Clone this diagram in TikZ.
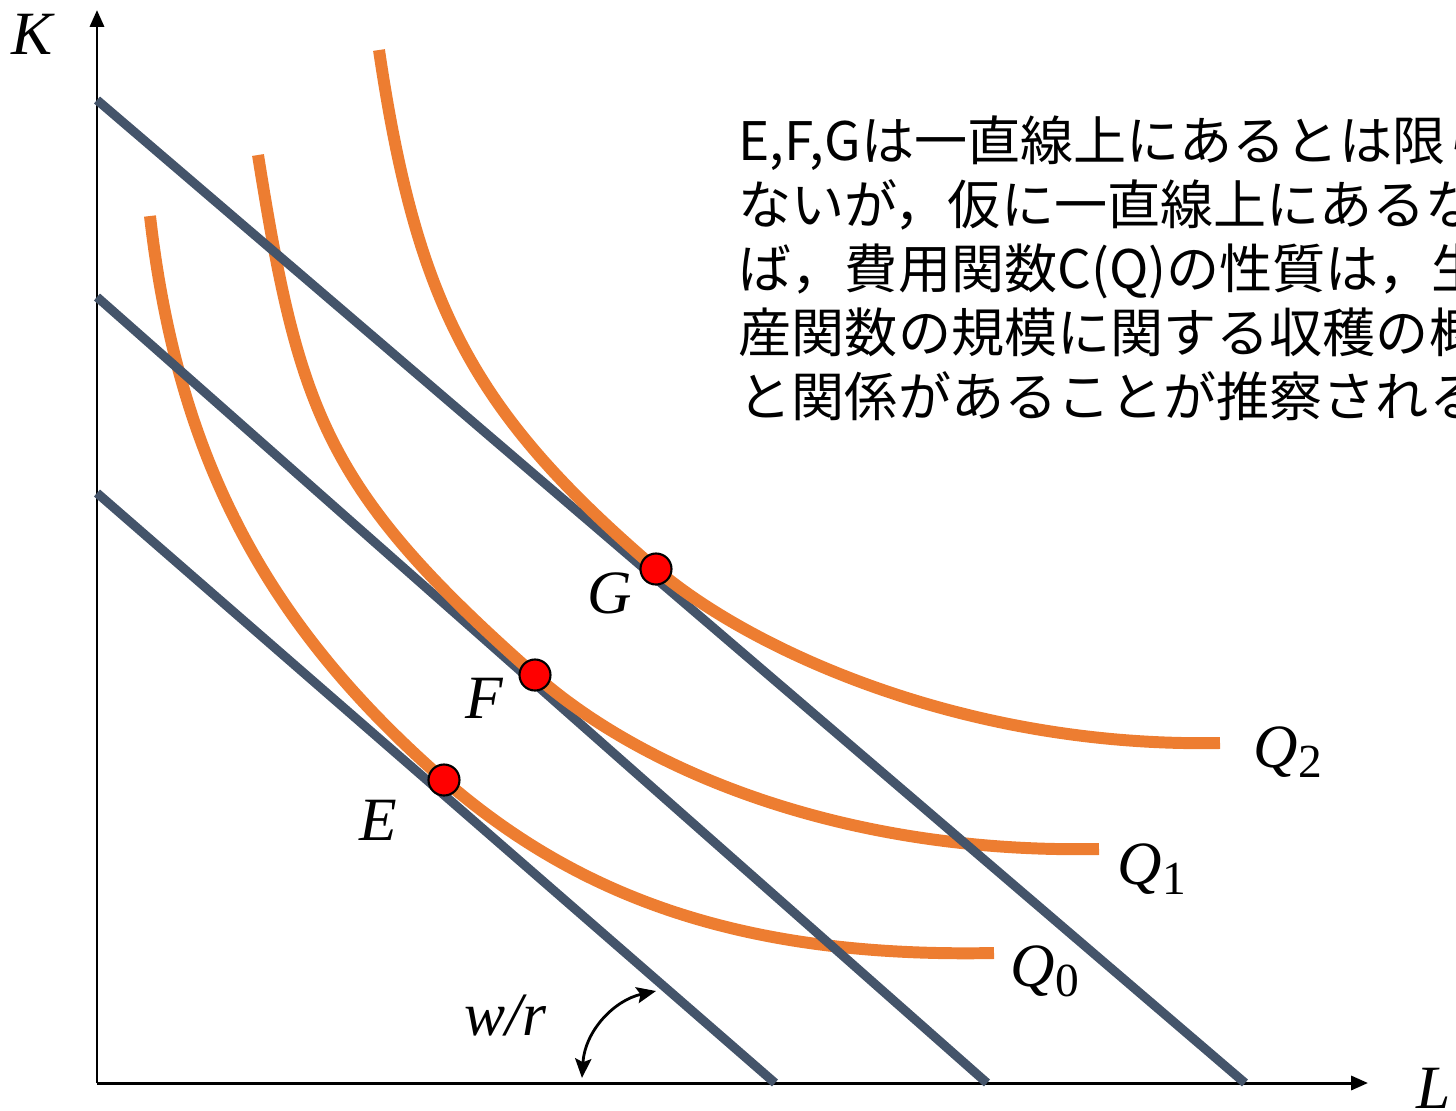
\documentclass[tikz,border=0pt]{standalone}
\usepackage{fontspec}
\setmainfont{Liberation Serif}
\newfontfamily\jpfont{Noto Sans CJK JP}
\usepackage{xcolor}
\usepackage{tikz}
\usetikzlibrary{arrows.meta}

\definecolor{isoquant}{HTML}{ED7D31}
\definecolor{isocost}{HTML}{44546A}

\newcommand{\qlab}[1]{Q\raisebox{-0.17em}{\upshape\fontsize{13.5}{13.5}\selectfont #1}}

\begin{document}
\begin{tikzpicture}[x=0.01cm, y=-0.01cm,
    axis/.style={line width=0.85pt, -{Triangle[length=4.8pt, width=4pt]}},
    costline/.style={draw=isocost, line width=2.6pt},
    quantline/.style={draw=isoquant, line width=3.4pt},
    tangdot/.style={circle, fill=red, draw=black, line width=0.6pt, minimum size=0.31cm, inner sep=0pt},
    lbl/.style={font=\fontsize{17.5}{20}\selectfont\itshape, inner sep=0pt},
    jpline/.style={font=\jpfont\fontsize{15.1}{18}\selectfont, anchor=base west, inner sep=0pt}]

        \useasboundingbox (0,0) rectangle (1456,1111);
        \clip (0,0) rectangle (1456,1111);

        % Axes
        \coordinate (O) at (97,1083);
        \coordinate (Ktip) at (97,10);
        \coordinate (Ltip) at (1368,1083);
        \draw[axis] (O) -- (Ktip);
        \draw[axis] (O) -- (Ltip);
        \node[lbl] (Klab) at (32,34) {K};
        \node[lbl] (Llab) at (1434,1088) {L};

        % Isocost lines and isoquants, in turn
        \draw[costline] (97,493) -- (775,1083);
        \draw[quantline] (150,216) .. controls (178,464) and (271,629) .. (444,780)
                                   .. controls (580,898) and (744,958) .. (994,953);
        \draw[costline] (97,297) -- (987,1083);
        \draw[quantline] (258,155) .. controls (299,412) and (325,490) .. (535,675)
                                   .. controls (640,768) and (839,854) .. (1099,849);
        \draw[costline] (97,100) -- (1245,1083);
        \draw[quantline] (379,50) .. controls (417,307) and (474,413) .. (656,569)
                                  .. controls (747,647) and (960,748) .. (1220,743);

        % Tangency points
        \node[tangdot] (E) at (444,780) {};
        \node[tangdot] (F) at (535,675) {};
        \node[tangdot] (G) at (656,569) {};
        \node[lbl] (Elab) at (378,820) {E};
        \node[lbl] (Flab) at (484,698) {F};
        \node[lbl] (Glab) at (610,593) {G};

        \node[lbl, anchor=base west] (Q0lab) at (1010,986) {\qlab{0}};
        \node[lbl, anchor=base west] (Q1lab) at (1117,884) {\qlab{1}};
        \node[lbl, anchor=base west] (Q2lab) at (1253,767) {\qlab{2}};

        % Slope w/r
        \coordinate (arcfoot) at (582,1078);
        \coordinate (arctop) at (656,991);
        \draw[line width=0.8pt, {Stealth[length=5.5pt, width=4.6pt, inset=1pt]}-{Stealth[length=5.5pt, width=4.6pt, inset=1pt]}]
            (arcfoot) .. controls (585,1030) and (615,1000) .. (arctop);
        \node[lbl, anchor=base west] (wr) at (464,1035) {w/r};

        % Note
        \node[jpline] (note1) at (738,160) {E,F,Gは一直線上にあるとは限ら};
        \node[jpline] (note2) at (738,224) {ないが，仮に一直線上にあるなら};
        \node[jpline] (note3) at (738,288) {ば，費用関数C(Q)の性質は，生};
        \node[jpline] (note4) at (738,352) {産関数の規模に関する収穫の概念};
        \node[jpline] (note5) at (738,416) {と関係があることが推察される。};
      \end{tikzpicture}
\end{document}
